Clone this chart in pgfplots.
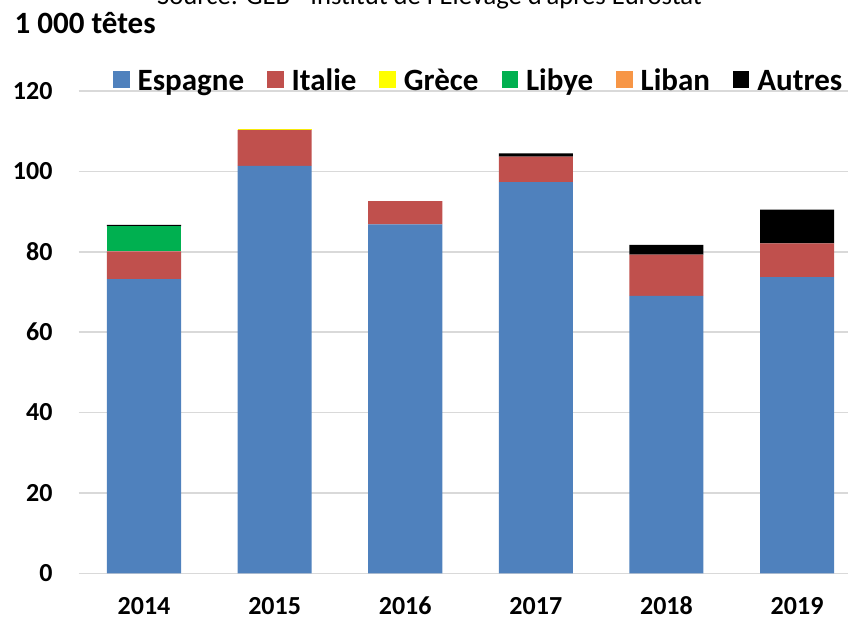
\documentclass[border=0pt]{standalone}
\usepackage{fontspec}
\setmainfont{Carlito}
\usepackage{pgfplots}
\pgfplotsset{compat=1.18}
\definecolor{esp}{HTML}{4F81BD}
\definecolor{ita}{HTML}{C0504D}
\definecolor{gre}{HTML}{FFFF00}
\definecolor{lib}{HTML}{00B050}
\definecolor{lbn}{HTML}{F79646}
\definecolor{gridgray}{HTML}{D9D9D9}
\newcommand{\gap}{\rule{23bp}{0pt}}
\begin{document}
\begin{tikzpicture}[x=1bp,y=1bp]
\node[anchor=base, inner sep=0pt, font=\fontsize{26.6bp}{30bp}\selectfont] at (429.5bp,613.7bp) {Source: GEB - Institut de l'Elevage d'après Eurostat};
\node[anchor=base west, inner sep=0pt, font=\fontsize{31bp}{36bp}\selectfont\bfseries] at (14.5bp,584.7bp) {1 000 têtes};
\begin{axis}[
  at={(78.7bp,44.7bp)}, anchor=south west,
  scale only axis, width=769.3bp, height=482.3bp,
  ybar stacked, bar width=0.567,
  xmin=-0.5, xmax=5.39, ymin=0, ymax=120,
  xtick={0,1,2,3,4,5}, xticklabels={2014,2015,2016,2017,2018,2019},
  ytick={0,20,40,60,80,100,120},
  ymajorgrids, grid style={color=gridgray, line width=1.5bp},
  major tick length=0pt, tick style={draw=none},
  axis line style={draw=none},
  /pgf/number format/assume math mode=true,
  yticklabel style={font=\fontsize{26bp}{30bp}\selectfont\bfseries, anchor=east, inner sep=0pt, xshift=-26bp},
  xticklabel style={font=\fontsize{26bp}{30bp}\selectfont\bfseries, anchor=north, inner sep=0pt, yshift=-23.5bp},
  legend columns=-1,
  legend style={at={(axis description cs:0.0446,1.021)}, anchor=west, draw=none, fill=none, inner sep=0pt,
    column sep=0pt, nodes={inner sep=0pt}, font=\fontsize{31bp}{36bp}\selectfont\bfseries},
  legend image code/.code={\fill[#1] (0bp,-7bp) rectangle (16.5bp,9.5bp);},
]
\addplot[fill=esp, draw=none] coordinates {(0,73.2) (1,101.4) (2,86.8) (3,97.3) (4,69.0) (5,73.7)};
\addlegendentry{\hspace{8bp}Espagne\gap}
\addplot[fill=ita, draw=none] coordinates {(0,6.9) (1,8.9) (2,5.8) (3,6.4) (4,10.3) (5,8.4)};
\addlegendentry{\hspace{8bp}Italie\gap}
\addplot[fill=gre, draw=none] coordinates {(0,0) (1,0.3) (2,0) (3,0) (4,0) (5,0)};
\addlegendentry{\hspace{8bp}Grèce\gap}
\addplot[fill=lib, draw=none] coordinates {(0,6.2) (1,0) (2,0) (3,0) (4,0) (5,0)};
\addlegendentry{\hspace{8bp}Libye\gap}
\addplot[fill=lbn, draw=none] coordinates {(0,0) (1,0) (2,0) (3,0) (4,0) (5,0)};
\addlegendentry{\hspace{8bp}Liban\gap}
\addplot[fill=black, draw=none] coordinates {(0,0.4) (1,0) (2,0) (3,0.8) (4,2.4) (5,8.4)};
\addlegendentry{\hspace{8bp}Autres}
\end{axis}
\pgfresetboundingbox
\path[use as bounding box] (0bp,0bp) rectangle (848bp,618bp);
\end{tikzpicture}
\end{document}
